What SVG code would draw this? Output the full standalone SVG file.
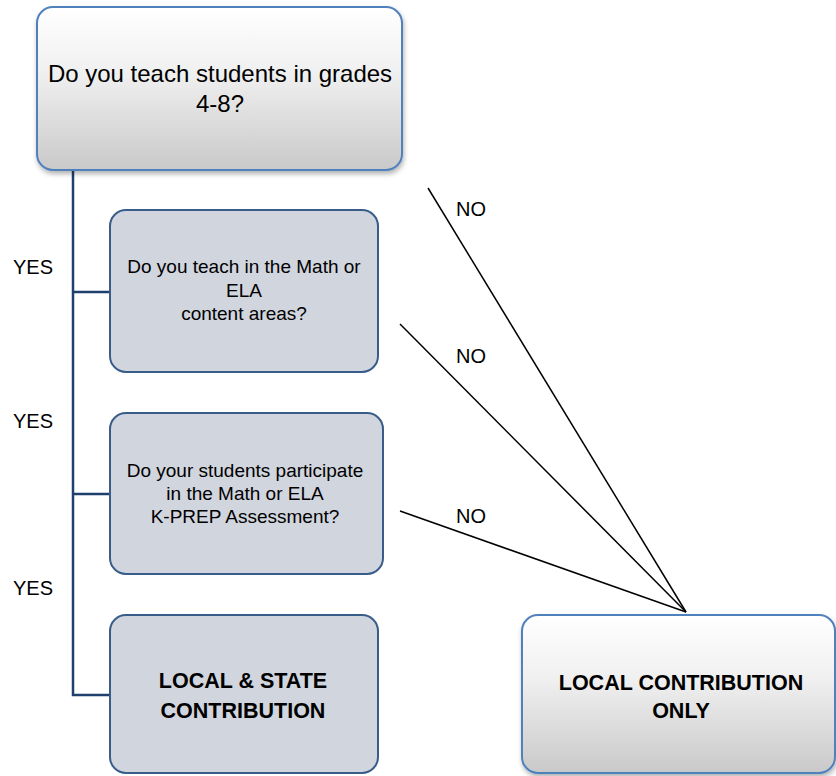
<svg xmlns="http://www.w3.org/2000/svg" width="836" height="776" viewBox="0 0 836 776">
<style>
.q{fill:#d1d5de;stroke:#385d8a;stroke-width:2}
.g{fill:url(#grad);stroke:#4f81bd;stroke-width:2;filter:url(#sh)}
.t{font-family:"Liberation Sans",Arial,sans-serif;fill:#000;text-anchor:middle}
.l{font-family:"Liberation Sans",Arial,sans-serif;fill:#000;font-size:20px}
.b{font-weight:bold;font-size:21.5px}
.tree{fill:none;stroke:#1f3f6e;stroke-width:2.5}
.no{stroke:#000;stroke-width:1.5}
</style>
<defs>
<linearGradient id="grad" x1="0" y1="0" x2="0" y2="1">
<stop offset="0" stop-color="#ffffff"/>
<stop offset="0.4" stop-color="#f0f0f0"/>
<stop offset="1" stop-color="#c9c9c9"/>
</linearGradient>
<filter id="sh" x="-10%" y="-10%" width="120%" height="125%">
<feDropShadow dx="1" dy="3" stdDeviation="2.5" flood-color="#000" flood-opacity="0.3"/>
</filter>
</defs>
<g id="connectors">
<path class="tree" d="M73 170 V695 H110 M73 292 H110 M73 494 H110"/>
<line class="no" x1="428" y1="188" x2="686" y2="612"/>
<line class="no" x1="400" y1="324" x2="686" y2="612"/>
<line class="no" x1="400" y1="511" x2="686" y2="612"/>
<text class="l" x="13" y="274">YES</text>
<text class="l" x="13" y="428">YES</text>
<text class="l" x="13" y="595">YES</text>
<text class="l" x="456" y="216">NO</text>
<text class="l" x="456" y="363">NO</text>
<text class="l" x="456" y="523">NO</text>
</g>
<g id="q1">
<rect class="g" x="37" y="7" width="365" height="163" rx="16"/>
<text class="t" x="220" y="82" font-size="24">Do you teach students in grades</text>
<text class="t" x="220" y="112" font-size="24">4-8?</text>
</g>
<g id="q2">
<rect class="q" x="110" y="210" width="268" height="162" rx="16"/>
<text class="t" x="244" y="273" font-size="19">Do you teach in the Math or</text>
<text class="t" x="244" y="297" font-size="19">ELA</text>
<text class="t" x="244" y="320" font-size="19">content areas?</text>
</g>
<g id="q3">
<rect class="q" x="110" y="413" width="273" height="161" rx="16"/>
<text class="t" x="245" y="477" font-size="19">Do your students participate</text>
<text class="t" x="245" y="500" font-size="19">in the Math or ELA</text>
<text class="t" x="245" y="523" font-size="19">K-PREP Assessment?</text>
</g>
<g id="localstate">
<rect class="q" x="110" y="615" width="268" height="158" rx="16"/>
<text class="t b" x="243" y="688">LOCAL &amp; STATE</text>
<text class="t b" x="243" y="718">CONTRIBUTION</text>
</g>
<g id="localonly">
<rect class="g" x="522" y="615" width="313" height="158" rx="16"/>
<text class="t b" x="681" y="690">LOCAL CONTRIBUTION</text>
<text class="t b" x="681" y="718">ONLY</text>
</g>
</svg>
